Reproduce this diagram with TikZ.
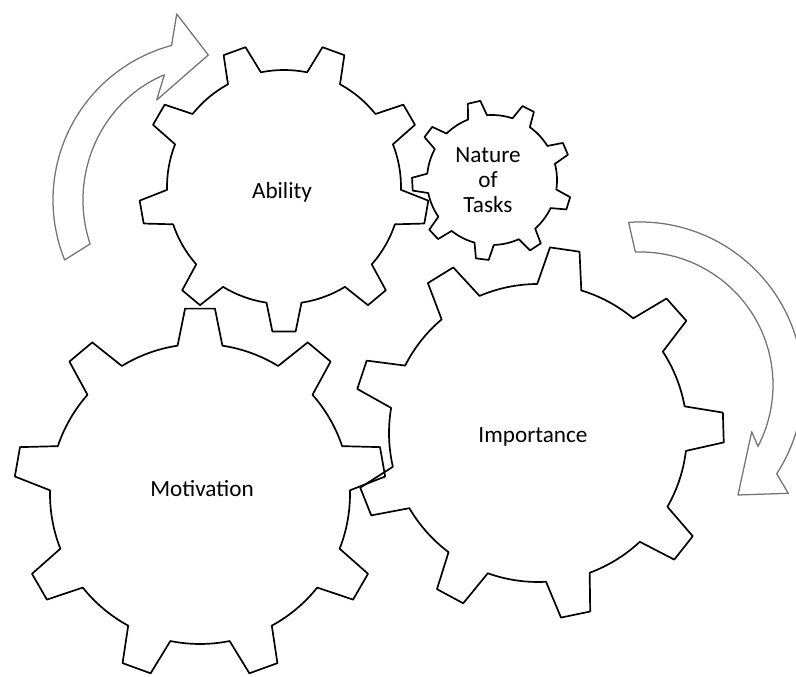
\documentclass[tikz,border=0pt]{standalone}
\usepackage{fontspec}
\setmainfont{Carlito}
\begin{document}
\begin{tikzpicture}[line join=round,line cap=round,font=\fontsize{16.5}{18}\selectfont,x=0.025cm,y=0.025cm,
	rang/.style={draw=black,line width=1.2pt},
	mt/.style={draw=black!55,fill=white,line width=0.9pt}]
	\useasboundingbox (0,0) rectangle (796,677);
	\clip (0,0) rectangle (796,677);
	% ve banh rang: tam, ban kinh chan rang, ban kinh dinh rang, goc rang dau
	\def\gear#1#2#3#4{\draw[rang,shift={(#1)}] (#4-8.6:#2)
		\foreach \k in {0,...,8}{
			-- ({#4+40*\k-4.6}:#3) -- ({#4+40*\k+4.6}:#3) -- ({#4+40*\k+8.6}:#2)
			arc[start angle={#4+40*\k+8.6},end angle={#4+40*\k+31.4},radius=#2]
		} -- cycle;}
	\path 
	(284,490) coordinate (Ab)
	(492,497) coordinate (Na)
	(538,244) coordinate (Im)
	(200,183) coordinate (Mo);
	\gear{284,490}{117}{145}{30}
	\gear{492,497}{65}{80}{23}
	\gear{538,244}{149}{186}{1.7}
	\gear{200,183}{150}{186}{90}
	% mui ten tren trai
	\draw[mt,shift={(213,477)}] (112:130 and 135) arc[start angle=112,end angle=199,x radius=130,y radius=135]
	-- (202:160) arc[start angle=202,end angle=105,radius=160]
	-- (-36.3,186) -- (-4.7,145) -- (-56.3,100) -- cycle;
	% mui ten ben phai
	\draw[mt,shift={(640,292)}] (92:133) arc[start angle=92,end angle=-27.5,radius=133]
	-- (111.7,-46.7) -- (98,-110) -- (148.3,-108.3)
	-- (-33:163) arc[start angle=-33,end angle=94,radius=163] -- cycle;
	% nhan
	\path (Ab) ++(-2,-5) node (ability) {Ability};
	\path (Na) ++(-4,0) node[align=center] (nature) {Nature\\of\\Tasks};
	\path (Im) ++(-5,-4) node (importance) {Importance};
	\path (Mo) ++(2,5) node (motivation) {Motivation};
\end{tikzpicture}
\end{document}
